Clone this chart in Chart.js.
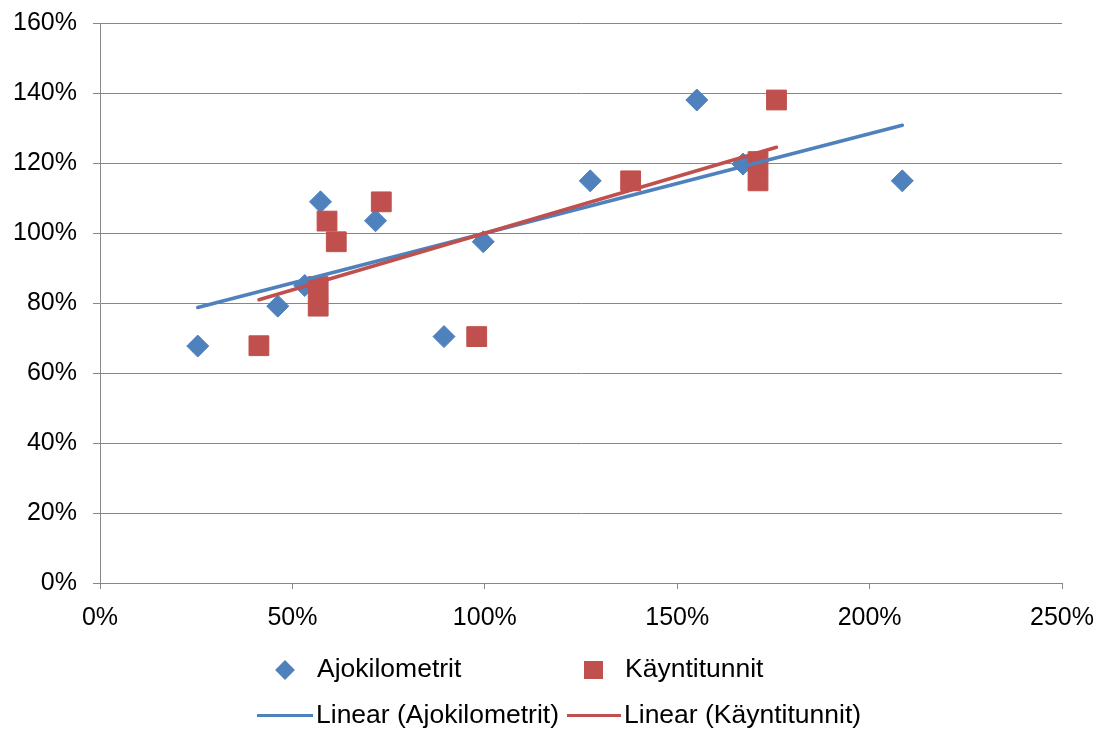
<!DOCTYPE html>
<html>
<head>
<meta charset="utf-8">
<script src="https://cdn.jsdelivr.net/npm/chart.js@4.4.0/dist/chart.umd.min.js"></script>
<style>
  html, body { margin: 0; padding: 0; background: #fff; }
  #wrap { position: relative; width: 1107px; height: 731px; font-family: "Liberation Sans", Arial, sans-serif; }
  #c { position: absolute; left: 0; top: 0; }
  .lg { position: absolute; font-size: 26.5px; line-height: 30px; color: #000; white-space: nowrap; }
  .mk { position: absolute; }
</style>
</head>
<body>
<div id="wrap">
  <canvas id="c" width="1107" height="731"></canvas>
  <div class="mk" style="left:278px;top:663px;width:14px;height:14px;background:#4F81BD;transform:rotate(45deg);"></div>
  <div class="lg" style="left:317px;top:653px;">Ajokilometrit</div>
  <div class="mk" style="left:584px;top:661px;width:19px;height:18px;background:#C0504D;"></div>
  <div class="lg" style="left:625px;top:653px;">Käyntitunnit</div>
  <div class="mk" style="left:257px;top:714px;width:56px;height:3px;background:#4F81BD;"></div>
  <div class="lg" style="left:316px;top:699px;">Linear (Ajokilometrit)</div>
  <div class="mk" style="left:567px;top:714px;width:54px;height:3px;background:#C0504D;"></div>
  <div class="lg" style="left:624px;top:699px;">Linear (Käyntitunnit)</div>
</div>
<script>
// Series names
const seriesNames = ["Ajokilometrit", "Käyntitunnit"];
// Ajokilometrit (x %, y %)
const ajoX = [25.4, 46.2, 53.2, 57.3, 71.6, 89.4, 99.6, 127.4, 155.1, 167.1, 208.5];
const ajoY = [67.7, 79.1, 85.0, 108.9, 103.5, 70.4, 97.5, 114.9, 138.0, 119.7, 114.9];
// Käyntitunnit (x %, y %)
const kayX = [41.3, 56.7, 56.7, 59.0, 73.1, 97.9, 61.4, 137.9, 175.8, 171.0, 171.0];
const kayY = [67.8, 79.1, 84.7, 103.4, 108.9, 70.4, 97.5, 114.9, 138.0, 120.4, 114.9];
// Axis ticks
const xTicks = [0, 50, 100, 150, 200, 250];
const yTicks = [0, 20, 40, 60, 80, 100, 120, 140, 160];

function pts(xs, ys) { return xs.map((x, i) => ({ x: x, y: ys[i] })); }
function trend(xs, ys) {
  const n = xs.length;
  const mx = xs.reduce((a, b) => a + b, 0) / n;
  const my = ys.reduce((a, b) => a + b, 0) / n;
  let sxy = 0, sxx = 0;
  for (let i = 0; i < n; i++) { sxy += (xs[i] - mx) * (ys[i] - my); sxx += (xs[i] - mx) ** 2; }
  const b = sxy / sxx, a = my - b * mx;
  const x0 = Math.min(...xs), x1 = Math.max(...xs);
  return [{ x: x0, y: a + b * x0 }, { x: x1, y: a + b * x1 }];
}

const BLUE = '#4F81BD', RED = '#C0504D', GRID = '#878787';
const FONT = { family: '"Liberation Sans", Arial, sans-serif', size: 25 };

new Chart(document.getElementById('c'), {
  type: 'scatter',
  data: {
    datasets: [
      { label: seriesNames[0], data: pts(ajoX, ajoY), pointStyle: 'rectRot', pointRadius: 11, pointHoverRadius: 11,
        backgroundColor: BLUE, borderColor: BLUE, borderWidth: 1, order: 3 },
      { label: seriesNames[1], data: pts(kayX, kayY), pointStyle: 'rect', pointRadius: 14, pointHoverRadius: 14,
        backgroundColor: RED, borderColor: RED, borderWidth: 1, order: 2 },
      { label: 'Linear (' + seriesNames[0] + ')', data: trend(ajoX, ajoY), showLine: true, pointRadius: 0,
        borderColor: BLUE, borderWidth: 3.5, backgroundColor: BLUE, borderCapStyle: 'round', order: 1 },
      { label: 'Linear (' + seriesNames[1] + ')', data: trend(kayX, kayY), showLine: true, pointRadius: 0,
        borderColor: RED, borderWidth: 3.5, backgroundColor: RED, borderCapStyle: 'round', order: 0 }
    ]
  },
  options: {
    responsive: false,
    animation: false,
    layout: { padding: { top: 23, right: 45, left: 0, bottom: 0 } },
    plugins: { legend: { display: false }, tooltip: { enabled: false } },
    scales: {
      x: {
        type: 'linear', min: 0, max: 250,
        afterBuildTicks: s => { s.ticks = xTicks.map(v => ({ value: v })); },
        afterFit: s => { s.height = 148; s.paddingLeft = 0; s.paddingRight = 0; },
        ticks: { callback: v => v + '%', color: '#000', font: FONT, padding: 14, maxRotation: 0 },
        grid: { drawOnChartArea: false, drawTicks: true, tickLength: 6, color: GRID, lineWidth: 1 },
        border: { display: true, color: GRID, width: 1 }
      },
      y: {
        type: 'linear', min: 0, max: 160,
        afterBuildTicks: s => { s.ticks = yTicks.map(v => ({ value: v })); },
        afterFit: s => { s.width = 100; s.paddingTop = 0; s.paddingBottom = 0; },
        ticks: { callback: v => v + '%', color: '#000', font: FONT, padding: 16 },
        grid: { drawOnChartArea: true, drawTicks: true, tickLength: 7, color: GRID, lineWidth: 1 },
        border: { display: true, color: GRID, width: 1 }
      }
    }
  }
});
</script>
</body>
</html>
